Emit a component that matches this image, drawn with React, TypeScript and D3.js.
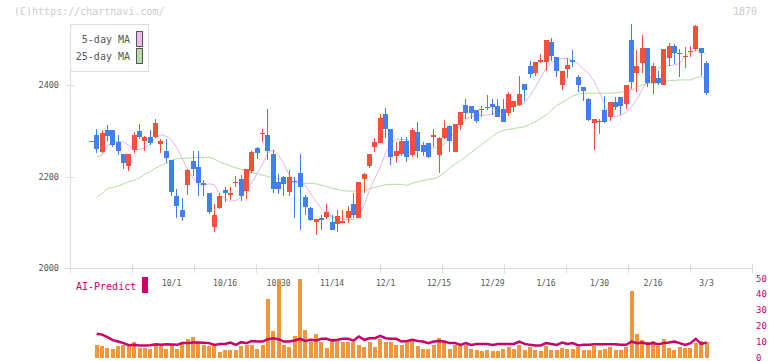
import React from 'react';
import * as d3 from 'd3';

// daily OHLC, index 0 .. 115 (last = 3/3)
const opens = [
  2277, 2291, 2254, 2302, 2302, 2275, 2249, 2223, 2258, 2300,
  2278, 2286, 2287, 2271, 2256, 2236, 2157, 2127, 2181, 2234,
  2221, 2185, 2165, 2090, 2131, 2170, 2160, 2186, 2194, 2169,
  2213, 2262, 2292, 2290, 2249, 2187, 2200, 2167, 2191, 2208,
  2156, 2132, 2101, 2110, 2112, 2101, 2096, 2099, 2109, 2140,
  2110, 2195, 2224, 2264, 2274, 2337, 2304, 2245, 2249, 2278,
  2247, 2298, 2269, 2273, 2287, 2247, 2285, 2310, 2254, 2313,
  2356, 2354, 2345, 2346, 2350, 2359, 2354, 2348, 2339, 2353,
  2356, 2402, 2442, 2427, 2450, 2450, 2493, 2461, 2399, 2434,
  2455, 2418, 2396, 2369, 2318, 2319, 2345, 2329, 2362, 2373,
  2358, 2498, 2427, 2447, 2481, 2405, 2416, 2400, 2460, 2485,
  2471, 2462, 2472, 2478, 2480, 2447,
];
const highs = [
  2278, 2304, 2302, 2313, 2302, 2291, 2249, 2249, 2298, 2315,
  2289, 2302, 2325, 2283, 2283, 2236, 2172, 2154, 2216, 2256,
  2256, 2192, 2165, 2140, 2163, 2178, 2178, 2201, 2203, 2217,
  2256, 2265, 2304, 2348, 2259, 2205, 2201, 2214, 2200, 2249,
  2160, 2133, 2107, 2116, 2140, 2116, 2127, 2127, 2136, 2165,
  2189, 2208, 2249, 2285, 2337, 2349, 2304, 2276, 2287, 2287,
  2305, 2320, 2276, 2273, 2304, 2287, 2323, 2313, 2314, 2340,
  2369, 2354, 2345, 2354, 2378, 2369, 2369, 2369, 2385, 2366,
  2420, 2402, 2453, 2451, 2467, 2498, 2503, 2462, 2431, 2460,
  2477, 2422, 2396, 2372, 2325, 2325, 2377, 2362, 2374, 2373,
  2400, 2533, 2477, 2509, 2481, 2447, 2431, 2478, 2491, 2490,
  2478, 2482, 2486, 2531, 2480, 2453,
];
const lows = [
  2276, 2252, 2252, 2278, 2265, 2247, 2217, 2213, 2251, 2282,
  2256, 2269, 2284, 2252, 2229, 2157, 2110, 2103, 2160, 2202,
  2158, 2158, 2117, 2079, 2129, 2144, 2149, 2176, 2147, 2150,
  2207, 2238, 2276, 2235, 2163, 2162, 2157, 2158, 2110, 2083,
  2116, 2103, 2072, 2083, 2107, 2082, 2079, 2098, 2098, 2109,
  2109, 2165, 2218, 2253, 2274, 2284, 2225, 2229, 2245, 2232,
  2242, 2241, 2245, 2241, 2265, 2208, 2283, 2254, 2254, 2302,
  2325, 2325, 2316, 2329, 2345, 2334, 2331, 2320, 2333, 2340,
  2355, 2365, 2416, 2420, 2448, 2431, 2453, 2418, 2388, 2416,
  2440, 2384, 2366, 2322, 2258, 2293, 2316, 2321, 2345, 2334,
  2348, 2391, 2385, 2426, 2396, 2380, 2400, 2400, 2442, 2446,
  2417, 2437, 2462, 2475, 2420, 2378,
];
const closes = [
  2277, 2260, 2295, 2289, 2269, 2256, 2230, 2249, 2291, 2287,
  2287, 2274, 2318, 2278, 2241, 2167, 2136, 2112, 2214, 2216,
  2185, 2181, 2122, 2116, 2157, 2164, 2165, 2188, 2158, 2216,
  2254, 2252, 2294, 2256, 2172, 2172, 2183, 2200, 2188, 2178,
  2134, 2105, 2107, 2106, 2122, 2082, 2114, 2103, 2125, 2116,
  2189, 2205, 2249, 2276, 2327, 2304, 2243, 2256, 2278, 2243,
  2302, 2256, 2254, 2243, 2290, 2285, 2305, 2278, 2314, 2340,
  2338, 2338, 2322, 2348, 2352, 2351, 2331, 2320, 2380, 2366,
  2380, 2389, 2424, 2451, 2455, 2498, 2464, 2431, 2431, 2443,
  2451, 2400, 2387, 2324, 2325, 2321, 2320, 2362, 2353, 2355,
  2400, 2407, 2442, 2481, 2405, 2442, 2405, 2478, 2485, 2471,
  2468, 2464, 2475, 2529, 2471, 2383,
];

const ma5 = [
  null, 2243, 2246, 2267, 2275, 2276, 2276, 2268, 2259, 2259,
  2262, 2271, 2285, 2291, 2288, 2280, 2262, 2240, 2214, 2196,
  2184, 2181, 2184, 2182, 2163, 2151, 2146, 2147, 2156, 2176,
  2186, 2207, 2227, 2252, 2258, 2247, 2227, 2203, 2192, 2186,
  2180, 2163, 2145, 2130, 2120, 2112, 2109, 2107, 2106, 2106,
  2112, 2138, 2170, 2196, 2221, 2251, 2273, 2281, 2281, 2280,
  2275, 2271, 2267, 2262, 2262, 2265, 2271, 2283, 2298, 2313,
  2325, 2331, 2333, 2334, 2334, 2336, 2340, 2344, 2348, 2353,
  2356, 2361, 2376, 2395, 2417, 2437, 2449, 2455, 2458, 2457,
  2453, 2447, 2435, 2425, 2407, 2384, 2355, 2336, 2331, 2334,
  2340, 2353, 2369, 2391, 2407, 2426, 2437, 2440, 2442, 2444,
  2447, 2462, 2471, 2474, 2474, 2467,
];
const ma25 = [
  null, 2155, 2163, 2174, 2176, 2179, 2184, 2189, 2192, 2197,
  2205, 2211, 2218, 2224, 2229, 2236, 2239, 2240, 2240, 2241,
  2242, 2242, 2242, 2238, 2232, 2227, 2223, 2219, 2216, 2212,
  2208, 2206, 2203, 2200, 2197, 2195, 2190, 2187, 2186, 2186,
  2185, 2185, 2184, 2181, 2178, 2174, 2172, 2169, 2168, 2168,
  2168, 2169, 2173, 2176, 2179, 2182, 2183, 2183, 2182, 2181,
  2185, 2189, 2191, 2194, 2195, 2200, 2208, 2219, 2227, 2235,
  2243, 2253, 2261, 2270, 2279, 2288, 2296, 2301, 2303, 2305,
  2307, 2309, 2314, 2320, 2327, 2334, 2345, 2355, 2362, 2369,
  2376, 2380, 2382, 2382, 2382, 2382, 2382, 2382, 2383, 2384,
  2387, 2389, 2396, 2400, 2404, 2404, 2404, 2407, 2410, 2410,
  2411, 2411, 2411, 2416, 2418, 2414,
];

const volume = [
  null, 8.0, 7.0, 5.9, 5.3, 7.4, 8.0, 7.0, 10.1, 6.3,
  6.3, 5.5, 7.6, 7.6, 5.5, 8.0, 5.5, 10.1, 11.8, 13.1,
  9.1, 8.0, 7.0, 7.0, 3.2, 4.9, 4.9, 4.9, 7.4, 8.0,
  8.0, 5.5, 8.0, 37.0, 16.8, 55, 8.0, 6.5, 13.7, 55,
  17.5, 10.1, 15.0, 10.1, 5.9, 11.6, 11.6, 10.1, 9.5, 10.1,
  8.0, 6.5, 9.5, 6.5, 11.8, 9.5, 9.5, 8.0, 8.0, 9.5,
  10.7, 7.4, 5.5, 5.5, 8.0, 12.2, 10.5, 5.5, 8.0, 7.0,
  8.0, 5.5, 4.9, 4.4, 4.9, 4.2, 4.2, 5.5, 6.5, 5.5,
  8.0, 4.9, 6.5, 4.9, 4.2, 7.4, 4.9, 4.9, 6.3, 5.5,
  5.5, 6.5, 4.9, 4.9, 7.4, 4.9, 5.5, 6.5, 4.9, 4.9,
  6.5, 42.1, 15.0, 11.2, 10.1, 10.5, 7.4, 11.8, 6.3, 4.9,
  6.5, 5.9, 6.3, 9.1, 10.5, 10.1,
];
const aiPredict = [
  null, 15.0, 14.5, 12.9, 11.0, 10.1, 9.1, 7.8, 8.0, 7.6,
  7.6, 7.8, 8.4, 8.0, 8.4, 8.2, 8.0, 9.1, 9.1, 9.5,
  9.5, 9.3, 9.1, 8.0, 8.6, 8.6, 9.5, 8.0, 9.7, 9.1,
  10.5, 10.1, 10.1, 11.6, 12.2, 11.6, 10.1, 10.1, 10.8, 11.8,
  10.5, 11.2, 10.7, 11.8, 11.8, 10.7, 11.2, 11.8, 11.8, 10.7,
  13.3, 11.2, 12.2, 12.2, 13.7, 12.2, 11.8, 11.8, 10.1, 10.5,
  11.2, 10.5, 10.1, 9.1, 10.1, 10.5, 10.1, 9.1, 9.1, 8.0,
  9.1, 8.0, 8.6, 8.6, 8.6, 8.0, 8.6, 8.6, 8.6, 8.6,
  10.1, 8.6, 8.0, 7.6, 7.6, 9.1, 8.6, 8.0, 9.5, 8.6,
  9.1, 7.6, 8.0, 8.0, 8.4, 8.4, 8.4, 8.4, 8.4, 8.0,
  8.0, 10.1, 9.1, 9.5, 8.6, 9.1, 8.4, 9.1, 9.5, 10.1,
  9.1, 8.0, 9.1, 11.8, 8.6, 9.5,
];

const dateLabels = ['10/1', '10/16', '10/30', '11/14', '12/1', '12/15', '12/29', '1/16', '1/30', '2/16', '3/3'];
const dateIndex = [15, 25, 35, 45, 55, 65, 75, 85, 95, 105, 115];
const priceTicks = [2000, 2200, 2400];
const predictTicks = [0, 10, 20, 30, 40, 50];

const UP = '#f4503c';
const DOWN = '#4080f0';
const MONO = '"DejaVu Sans Mono", monospace';

export default function App() {
  const x = d3.scaleLinear().domain([-4, 123.5]).range([70, 752]);
  const y = d3.scaleLinear().domain([2000, 2400]).range([268, 85]);
  const yp = d3.scaleLinear().domain([0, 50]).range([357.5, 278.5]).clamp(true);
  const grid = d3.scaleLinear().domain([0, 11]).range([70, 752]);

  const maLine = d3.line<number | null>()
    .defined(d => d != null)
    .x((_, i) => x(i))
    .y(d => y(d as number));
  const aiLine = d3.line<number | null>()
    .defined(d => d != null)
    .x((_, i) => x(i))
    .y(d => yp(d as number));

  return (
    <svg width={772} height={361} style={{ position: 'absolute', left: 0, top: 0, background: '#fff' }}>
      <style>{`body{margin:0}`}</style>
      <text x={14} y={15} fontFamily={MONO} fontSize={10} fill="#cccccc">(C)https://chartnavi.com/</text>
      <text x={757} y={15} fontFamily={MONO} fontSize={10} fill="#cccccc" textAnchor="end">1870</text>

      {/* axes */}
      <g stroke="#dddddd" strokeWidth={1} shapeRendering="crispEdges">
        <line x1={70.5} x2={70.5} y1={24} y2={273} />
        <line x1={65} x2={752} y1={268.5} y2={268.5} />
        {d3.range(12).map(k => (
          <line key={k} x1={Math.round(grid(k)) + 0.5} x2={Math.round(grid(k)) + 0.5} y1={264} y2={273} />
        ))}
        {priceTicks.map(t => (
          <line key={t} x1={66} x2={74} y1={Math.round(y(t)) + 0.5} y2={Math.round(y(t)) + 0.5} />
        ))}
      </g>
      {priceTicks.map(t => (
        <text key={t} x={59} y={y(t) + 3} fontFamily={MONO} fontSize={8.5} fill="#555" textAnchor="end">{t}</text>
      ))}
      {dateLabels.map((d, k) => (
        <text key={d} x={x(dateIndex[k])} y={285.5} fontFamily={MONO} fontSize={8} fill="#555" textAnchor="middle">{d}</text>
      ))}

      {/* moving averages */}
      <path d={maLine(ma25) || ''} fill="none" stroke="#b4dca0" strokeWidth={1} />
      <path d={maLine(ma5) || ''} fill="none" stroke="#e8b4e8" strokeWidth={1} />

      {/* candles */}
      <g shapeRendering="crispEdges">
        {closes.map((c, i) => {
          const o = opens[i];
          const col = c >= o ? UP : DOWN;
          const cx = x(i);
          const top = y(Math.max(o, c));
          const h = Math.max(1, Math.abs(y(o) - y(c)));
          return (
            <g key={i} fill={col}>
              <rect x={cx - 0.5} y={y(highs[i])} width={1} height={Math.max(1, y(lows[i]) - y(highs[i]))} />
              <rect x={cx - 2.5} y={top} width={5} height={h} />
            </g>
          );
        })}
      </g>

      {/* legend */}
      <rect x={70.5} y={24.5} width={78} height={47} fill="#fff" stroke="#dddddd" />
      <text x={130} y={43} fontFamily={MONO} fontSize={10} fill="#555" textAnchor="end">5-day MA</text>
      <text x={130} y={60} fontFamily={MONO} fontSize={10} fill="#555" textAnchor="end">25-day MA</text>
      <rect x={136.5} y={31.5} width={6} height={15} fill="#f0b8f0" stroke="#555" />
      <rect x={136.5} y={48.5} width={6} height={15} fill="#b8dca8" stroke="#555" />

      {/* lower panel */}
      <text x={76} y={289.5} fontFamily={MONO} fontSize={10} fill="#cc0066">AI-Predict</text>
      <rect x={142} y={277} width={6} height={16} fill="#cc0066" />
      <g fill="#f0963c" shapeRendering="crispEdges">
        {volume.map((v, i) => v == null ? null : (
          <rect key={i} x={x(i) - 2} y={yp(v)} width={4} height={yp(0) - yp(v)} />
        ))}
      </g>
      <path d={aiLine(aiPredict) || ''} fill="none" stroke="#cc0066" strokeWidth={2.5} />
      {predictTicks.map(t => (
        <text key={t} x={756} y={yp(t) + 3} fontFamily={MONO} fontSize={9} fill="#cc0066">{t}</text>
      ))}
    </svg>
  );
}
